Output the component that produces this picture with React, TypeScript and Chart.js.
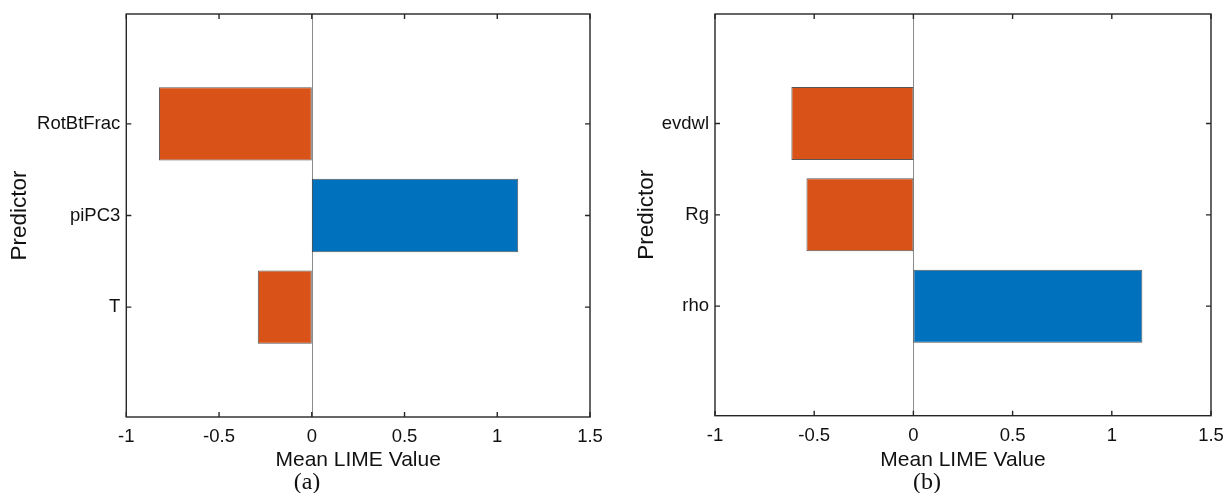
import React, { useEffect, useRef } from "react";
import { Chart, registerables } from "chart.js";

Chart.register(...registerables);

// ---- data ----
const predictorsA = ["RotBtFrac", "piPC3", "T"];
const valuesA = [-0.824, 1.113, -0.291];
const predictorsB = ["evdwl", "Rg", "rho"];
const valuesB = [-0.615, -0.539, 1.154];
const xTickValues = [-1, -0.5, 0, 0.5, 1, 1.5];
const panelLabels = ["(a)", "(b)"];
const xTitle = "Mean LIME Value";
const yTitle = "Predictor";

const ORANGE = "#D95319";
const BLUE = "#0072BD";
const AXIS = "#262626";
const FONT = '"Liberation Sans", Arial, Helvetica, sans-serif';

const framePlugin = {
  id: "frame",
  beforeDatasetsDraw(chart: any) {
    const { ctx, chartArea: a, scales } = chart;
    const zx = Math.round(scales.x.getPixelForValue(0)) + 0.5;
    ctx.save();
    ctx.strokeStyle = "#8c8c8c";
    ctx.lineWidth = 1;
    ctx.beginPath();
    ctx.moveTo(zx, a.top);
    ctx.lineTo(zx, a.bottom);
    ctx.stroke();
    ctx.restore();
  },
  afterDraw(chart: any) {
    const { ctx, chartArea: a, scales } = chart;
    const tl = 5;
    ctx.save();
    ctx.strokeStyle = AXIS;
    ctx.lineWidth = 1.4;
    ctx.strokeRect(a.left, a.top, a.right - a.left, a.bottom - a.top);
    ctx.beginPath();
    for (const t of scales.x.ticks) {
      const px = scales.x.getPixelForValue(t.value);
      ctx.moveTo(px, a.bottom);
      ctx.lineTo(px, a.bottom - tl);
      ctx.moveTo(px, a.top);
      ctx.lineTo(px, a.top + tl);
    }
    for (const t of scales.y.ticks) {
      const py = scales.y.getPixelForValue(t.value);
      ctx.moveTo(a.left, py);
      ctx.lineTo(a.left + tl, py);
      ctx.moveTo(a.right, py);
      ctx.lineTo(a.right - tl, py);
    }
    ctx.stroke();
    ctx.restore();
  },
};

type PanelProps = {
  labels: string[];
  values: number[];
  width: number;
  left: number;
  yAxisWidth: number;
  rightPad: number;
  xAxisHeight: number;
  yTitlePad: number;
};

function Panel(p: PanelProps) {
  const ref = useRef<HTMLCanvasElement | null>(null);
  useEffect(() => {
    if (!ref.current) return;
    const n = p.labels.length;
    const chart = new Chart(ref.current, {
      type: "bar",
      data: {
        datasets: [
          {
            data: p.values.map((v, i) => ({ x: v, y: i })),
            backgroundColor: p.values.map((v) => (v < 0 ? ORANGE : BLUE)),
            borderColor: "rgba(45,45,45,0.8)",
            borderWidth: 1,
            borderSkipped: false,
            barPercentage: 0.8,
            categoryPercentage: 1,
          } as any,
        ],
      },
      options: {
        indexAxis: "y",
        responsive: false,
        animation: false,
        layout: { padding: { left: 0, right: p.rightPad, top: 14, bottom: 0 } },
        plugins: { legend: { display: false }, tooltip: { enabled: false } },
        scales: {
          x: {
            type: "linear",
            min: -1,
            max: 1.5,
            offset: false,
            grid: { display: false, drawTicks: false },
            border: { display: false },
            afterBuildTicks: (s: any) => {
              s.ticks = xTickValues.map((v) => ({ value: v }));
            },
            afterFit: (s: any) => {
              s.height = p.xAxisHeight;
              s.paddingLeft = 0;
              s.paddingRight = 0;
            },
            ticks: {
              padding: 9,
              color: "#111",
              font: { family: FONT, size: 18.5 },
              maxRotation: 0,
              autoSkip: false,
              callback: (v: any) => String(v),
            },
            title: {
              display: true,
              text: xTitle,
              color: "#111",
              font: { family: FONT, size: 21 },
              padding: { top: 0, bottom: 20 },
            },
          },
          y: {
            type: "linear",
            min: -1.2,
            max: n - 1 + 1.2,
            reverse: true,
            offset: false,
            grid: { display: false, drawTicks: false, offset: false },
            border: { display: false },
            afterBuildTicks: (s: any) => {
              s.ticks = p.labels.map((_, i) => ({ value: i }));
            },
            afterFit: (s: any) => {
              s.width = p.yAxisWidth;
              s.paddingTop = 0;
              s.paddingBottom = 0;
            },
            ticks: {
              padding: 6,
              color: "#111",
              autoSkip: false,
              font: { family: FONT, size: 18.5 },
              callback: (v: any) => p.labels[v as number] ?? "",
            },
            title: {
              display: true,
              text: yTitle,
              color: "#111",
              font: { family: FONT, size: 22.5 },
              padding: { top: p.yTitlePad, bottom: 0 },
            },
          },
        },
      } as any,
      plugins: [framePlugin],
    });
    return () => chart.destroy();
  }, []);
  return (
    <canvas
      ref={ref}
      width={p.width}
      height={493}
      style={{ position: "absolute", left: p.left, top: 0, width: p.width, height: 493, display: "block" }}
    />
  );
}

const labelStyle: React.CSSProperties = {
  position: "absolute",
  top: 469,
  width: 100,
  textAlign: "center",
  fontFamily: '"Liberation Serif", "Times New Roman", serif',
  fontSize: 24,
  lineHeight: "24px",
  color: "#111",
};

export default function App() {
  return (
    <div style={{ position: "absolute", left: 0, top: 0, width: 1226, height: 493, background: "#fff", overflow: "hidden" }}>
      <Panel labels={predictorsA} values={valuesA} width={610} left={0} yAxisWidth={126.3} rightPad={20} xAxisHeight={76} yTitlePad={6.5} />
      <Panel labels={predictorsB} values={valuesB} width={616} left={610} yAxisWidth={105} rightPad={15} xAxisHeight={77.3} yTitlePad={23.5} />
      <div style={{ ...labelStyle, left: 307 - 50 }}>{panelLabels[0]}</div>
      <div style={{ ...labelStyle, left: 927 - 50 }}>{panelLabels[1]}</div>
    </div>
  );
}
